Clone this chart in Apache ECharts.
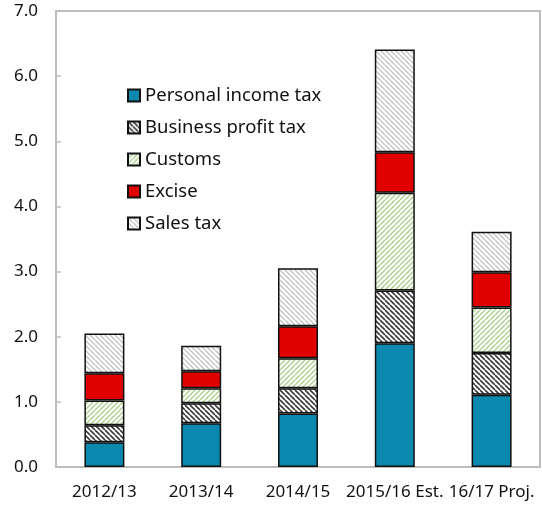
<!DOCTYPE html>
<html>
<head>
<meta charset="utf-8">
<script src="https://cdn.jsdelivr.net/npm/echarts@6/dist/echarts.min.js"></script>
<style>
  html, body { margin: 0; padding: 0; background: #fff; }
  #chart { width: 542px; height: 508px; }
</style>
</head>
<body>
<div id="chart"></div>
<script>
const categories = ['2012/13', '2013/14', '2014/15', '2015/16 Est.', '16/17 Proj.']
const personalIncome = [0.38, 0.67, 0.82, 1.90, 1.11]
const businessProfit = [0.26, 0.31, 0.39, 0.81, 0.64]
const customs = [0.38, 0.23, 0.46, 1.50, 0.70]
const excise = [0.42, 0.26, 0.49, 0.62, 0.54]
const salesTax = [0.61, 0.39, 0.89, 1.58, 0.62]
const yTicks = ['0.0', '1.0', '2.0', '3.0', '4.0', '5.0', '6.0', '7.0']

// diagonal hatch fill
function hatch(lineColor, bg, dir, size, width) {
  const c = document.createElement('canvas')
  c.width = size
  c.height = size
  const ctx = c.getContext('2d')
  ctx.fillStyle = bg
  ctx.fillRect(0, 0, size, size)
  ctx.strokeStyle = lineColor
  ctx.lineWidth = width
  for (const k of [-size, 0, size]) {
    ctx.beginPath()
    if (dir === '\\') {
      ctx.moveTo(k, 0)
      ctx.lineTo(k + size, size)
    } else {
      ctx.moveTo(k, size)
      ctx.lineTo(k + size, 0)
    }
    ctx.stroke()
  }
  return { image: c, repeat: 'repeat' }
}

const font = '"Noto Sans", "Open Sans", sans-serif'
const border = { borderColor: '#111', borderWidth: 1.5 }

function bar(name, data, color) {
  return {
    name,
    type: 'bar',
    stack: 'tax',
    data,
    barWidth: 40,
    itemStyle: Object.assign({ color }, border)
  }
}

const chart = echarts.init(document.getElementById('chart'))
chart.setOption({
  animation: false,
  textStyle: { fontFamily: font },
  grid: {
    left: 56, right: 2, top: 11, bottom: 41,
    show: true, borderColor: '#bdbdbd', borderWidth: 2
  },
  legend: {
    orient: 'vertical',
    left: 127,
    top: 86,
    padding: 0,
    itemWidth: 12,
    itemHeight: 12,
    itemGap: 13,
    icon: 'rect',
    textStyle: { fontSize: 18.5, color: '#111', fontFamily: font, lineHeight: 18 },
    data: ['Personal income tax', 'Business profit tax', 'Customs', 'Excise', 'Sales tax']
  },
  xAxis: {
    type: 'category',
    data: categories,
    axisLine: { lineStyle: { color: '#bdbdbd', width: 2 } },
    axisTick: { inside: true, length: 5, lineStyle: { color: '#bdbdbd', width: 1.5 } },
    axisLabel: { fontSize: 17, color: '#111', margin: 17, interval: 0 }
  },
  yAxis: {
    type: 'value',
    min: 0,
    max: 7,
    interval: 1,
    splitLine: { show: false },
    axisLine: { show: true, lineStyle: { color: '#bdbdbd', width: 2 } },
    axisTick: { show: true, inside: true, length: 5, lineStyle: { color: '#bdbdbd', width: 1.5 } },
    axisLabel: {
      fontSize: 17, color: '#111', margin: 18,
      formatter: (v) => yTicks[Math.round(v)]
    }
  },
  series: [
    bar('Personal income tax', personalIncome, '#0a88ad'),
    bar('Business profit tax', businessProfit, hatch('#3a3a3a', '#ffffff', '\\', 5, 1.6)),
    bar('Customs', customs, hatch('#a9d18e', '#ffffff', '/', 5, 1.4)),
    bar('Excise', excise, '#e00000'),
    bar('Sales tax', salesTax, hatch('#c4c4c4', '#ffffff', '\\', 5, 1.4))
  ]
})
</script>
</body>
</html>
